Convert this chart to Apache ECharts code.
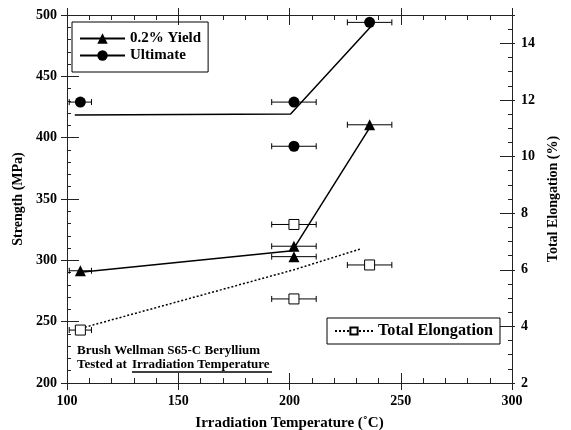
<!DOCTYPE html>
<html>
<head>
<meta charset="utf-8">
<script src="https://cdn.jsdelivr.net/npm/echarts@6/dist/echarts.min.js"></script>
<style>
  html, body { margin: 0; padding: 0; background: #fff; }
  #chart { width: 571px; height: 430px; }
</style>
</head>
<body>
<div id="chart"></div>
<script>
// measured points (x = irradiation temp, y = value, err = temp spread)
const yieldX = [106, 202, 202, 236];
const yieldY = [291.5, 311.5, 303, 410.5];
const yieldErr = [5, 10, 10, 10];

const ultX = [106, 202, 202, 236];
const ultY = [429, 429, 393, 494];
const ultErr = [5, 10, 10, 10];

const elongX = [106, 202, 202, 236];
const elongY = [3.87, 7.6, 4.97, 6.17];
const elongErr = [5, 10, 10, 10];

// fit lines
const yieldFitX = [106, 201.3, 236];
const yieldFitY = [290.2, 307.9, 408];
const ultFitX = [103.5, 200.5, 236.5];
const ultFitY = [418.5, 419.3, 490.5];
const elongFitX = [108, 202, 232.5];
const elongFitY = [3.97, 6.0, 6.75];

const FONT = "Liberation Serif";
const INK = "#000";
const AXIS = "#222";

const zip = (xs, ys, es) => xs.map((x, i) => (es ? [x, ys[i], es[i]] : [x, ys[i]]));

function errorBars(params, api) {
  const x = api.value(0);
  const y = api.value(1);
  const e = api.value(2);
  const a = api.coord([x - e, y]);
  const b = api.coord([x + e, y]);
  const cap = 3;
  const style = { stroke: INK, lineWidth: 1 };
  return {
    type: "group",
    children: [
      { type: "line", shape: { x1: a[0], y1: a[1], x2: b[0], y2: b[1] }, style },
      { type: "line", shape: { x1: a[0], y1: a[1] - cap, x2: a[0], y2: a[1] + cap }, style },
      { type: "line", shape: { x1: b[0], y1: b[1] - cap, x2: b[0], y2: b[1] + cap }, style },
    ],
  };
}

const tickLabel = { color: INK, fontFamily: FONT, fontWeight: "bold", fontSize: 14 };
const axisName = { color: INK, fontFamily: FONT, fontWeight: "bold", fontSize: 14 };

// main axes: inside ticks + minor ticks; shadow axes: short outside ticks only
const xBase = { type: "value", min: 100, max: 300, interval: 50, splitLine: { show: false } };
const leftBase = { type: "value", min: 200, max: 500, interval: 50, splitLine: { show: false } };
const rightBase = { type: "value", min: 2, max: 15, interval: 2, splitLine: { show: false } };

const outsideOnly = (base, position, len) => ({
  ...base,
  position,
  axisLine: { show: true, lineStyle: { color: AXIS, width: 1 } },
  axisTick: { show: true, inside: false, length: len, lineStyle: { color: AXIS } },
  axisLabel: { show: false },
});

const chart = echarts.init(document.getElementById("chart"));

chart.setOption({
  animation: false,
  backgroundColor: "#fff",
  grid: { left: 67, right: 59, top: 15, bottom: 47, containLabel: false, outerBoundsMode: "none" },
  xAxis: [
    {
      ...xBase,
      position: "bottom",
      name: "Irradiation Temperature (˚C)",
      nameLocation: "middle",
      nameGap: 33,
      nameTextStyle: { ...axisName, fontSize: 15 },
      axisLine: { show: true, lineStyle: { color: AXIS, width: 1 } },
      axisTick: { inside: true, length: 10, lineStyle: { color: AXIS } },
      minorTick: { show: true, splitNumber: 5, length: 5, lineStyle: { color: AXIS } },
      axisLabel: { ...tickLabel, margin: 11 },
    },
    {
      ...xBase,
      position: "top",
      axisLine: { show: true, lineStyle: { color: AXIS, width: 1 } },
      axisTick: { inside: true, length: 10, lineStyle: { color: AXIS } },
      minorTick: { show: true, splitNumber: 5, length: 5, lineStyle: { color: AXIS } },
      axisLabel: { show: false },
    },
    outsideOnly(xBase, "bottom", 7),
    outsideOnly(xBase, "top", 7),
  ],
  yAxis: [
    {
      ...leftBase,
      position: "left",
      name: "Strength (MPa)",
      nameLocation: "middle",
      nameRotate: 90,
      nameGap: 32,
      nameTextStyle: axisName,
      axisLine: { show: true, lineStyle: { color: AXIS, width: 1 } },
      axisTick: { inside: true, length: 12, lineStyle: { color: AXIS } },
      minorTick: { show: true, splitNumber: 5, length: 4, lineStyle: { color: AXIS } },
      axisLabel: { ...tickLabel, margin: 10 },
    },
    {
      ...rightBase,
      position: "right",
      name: "Total Elongation (%)",
      nameLocation: "middle",
      nameRotate: 90,
      nameGap: 24,
      nameTextStyle: axisName,
      axisLine: { show: true, lineStyle: { color: AXIS, width: 1 } },
      axisTick: { inside: true, length: 12, lineStyle: { color: AXIS } },
      minorTick: { show: true, splitNumber: 4, length: 4, lineStyle: { color: AXIS } },
      axisLabel: {
        ...tickLabel,
        margin: 9,
        showMaxLabel: false,
        formatter: (v) => (v % 2 === 0 ? String(v) : ""),
      },
    },
    outsideOnly(leftBase, "left", 6),
    outsideOnly(rightBase, "right", 3),
  ],
  legend: [
    {
      data: ["0.2% Yield", "Ultimate"],
      orient: "vertical",
      left: 72,
      top: 22,
      padding: [9, 7],
      itemWidth: 45,
      itemHeight: 13,
      itemGap: 2,
      borderColor: INK,
      borderWidth: 1,
      borderRadius: 0,
      selectedMode: false,
      textStyle: { color: INK, fontFamily: FONT, fontWeight: "bold", fontSize: 15 },
    },
    {
      data: ["Total Elongation"],
      left: 327,
      top: 318,
      padding: [5, 7],
      itemWidth: 38,
      itemHeight: 9,
      borderColor: INK,
      borderWidth: 1,
      borderRadius: 0,
      selectedMode: false,
      textStyle: { color: INK, fontFamily: FONT, fontWeight: "bold", fontSize: 16.2 },
    },
  ],
  graphic: [
    {
      type: "text",
      left: 77,
      top: 344,
      style: { text: "Brush Wellman S65-C Beryllium", fill: INK, font: `bold 13px "${FONT}"` },
    },
    {
      type: "text",
      left: 77,
      top: 358,
      style: { text: "Tested at", fill: INK, font: `bold 13px "${FONT}"` },
    },
    {
      type: "text",
      left: 132,
      top: 358,
      style: { text: "Irradiation Temperature", fill: INK, font: `bold 13px "${FONT}"` },
    },
    {
      type: "line",
      shape: { x1: 132, y1: 372, x2: 272, y2: 372 },
      style: { stroke: INK, lineWidth: 1.5 },
    },
  ],
  series: [
    {
      name: "0.2% Yield",
      type: "line",
      xAxisIndex: 0,
      yAxisIndex: 0,
      data: zip(yieldFitX, yieldFitY),
      symbol: "triangle",
      symbolSize: 11,
      showSymbol: false,
      itemStyle: { color: INK },
      lineStyle: { color: INK, width: 1.5 },
      z: 3,
    },
    {
      name: "Ultimate",
      type: "line",
      xAxisIndex: 0,
      yAxisIndex: 0,
      data: zip(ultFitX, ultFitY),
      symbol: "circle",
      symbolSize: 11,
      showSymbol: false,
      itemStyle: { color: INK },
      lineStyle: { color: INK, width: 1.5 },
      z: 3,
    },
    {
      name: "Total Elongation",
      type: "line",
      xAxisIndex: 0,
      yAxisIndex: 1,
      data: zip(elongFitX, elongFitY),
      symbol: "rect",
      symbolSize: 10,
      showSymbol: false,
      itemStyle: { color: "#fff", borderColor: INK, borderWidth: 1 },
      lineStyle: { color: INK, width: 1.5, type: [2, 2] },
      z: 3,
    },
    {
      name: "yield-err",
      type: "custom",
      xAxisIndex: 0,
      yAxisIndex: 0,
      renderItem: errorBars,
      data: zip(yieldX, yieldY, yieldErr),
      encode: { x: 0, y: 1 },
      z: 2,
    },
    {
      name: "ult-err",
      type: "custom",
      xAxisIndex: 0,
      yAxisIndex: 0,
      renderItem: errorBars,
      data: zip(ultX, ultY, ultErr),
      encode: { x: 0, y: 1 },
      z: 2,
    },
    {
      name: "elong-err",
      type: "custom",
      xAxisIndex: 0,
      yAxisIndex: 1,
      renderItem: errorBars,
      data: zip(elongX, elongY, elongErr),
      encode: { x: 0, y: 1 },
      z: 2,
    },
    {
      name: "yield-pts",
      type: "scatter",
      xAxisIndex: 0,
      yAxisIndex: 0,
      data: zip(yieldX, yieldY),
      symbol: "triangle",
      symbolSize: 11,
      itemStyle: { color: INK, opacity: 1 },
      z: 4,
    },
    {
      name: "ult-pts",
      type: "scatter",
      xAxisIndex: 0,
      yAxisIndex: 0,
      data: zip(ultX, ultY),
      symbol: "circle",
      symbolSize: 11,
      itemStyle: { color: INK, opacity: 1 },
      z: 4,
    },
    {
      name: "elong-pts",
      type: "scatter",
      xAxisIndex: 0,
      yAxisIndex: 1,
      data: zip(elongX, elongY),
      symbol: "rect",
      symbolSize: 10,
      itemStyle: { color: "#fff", borderColor: INK, borderWidth: 1, opacity: 1 },
      z: 4,
    },
  ],
});
</script>
</body>
</html>
